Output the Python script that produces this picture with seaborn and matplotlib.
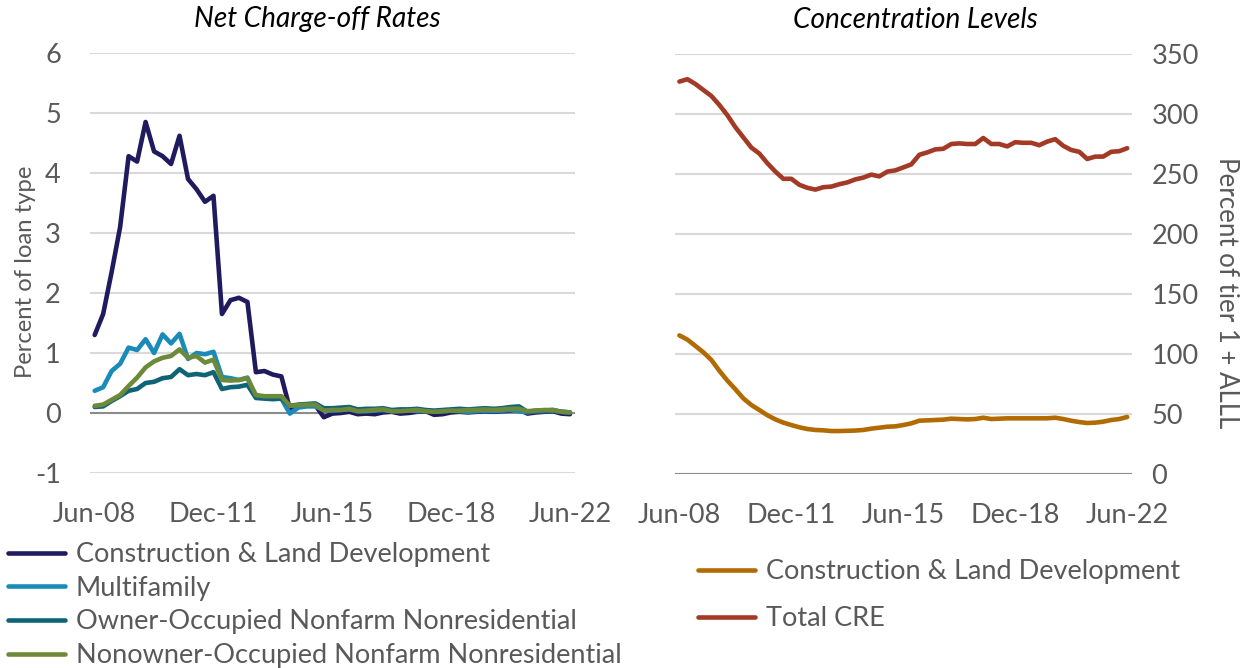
import numpy as np
import pandas as pd
import matplotlib
matplotlib.use("Agg")
import matplotlib.pyplot as plt
import seaborn as sns

sns.set_theme(style="white")
plt.rcParams['font.family'] = ['Lato', 'DejaVu Sans']
plt.rcParams['axes.unicode_minus'] = False

# quarterly, Jun-08 .. Jun-22
quarters = pd.period_range("2008Q2", "2022Q2", freq="Q")
tick_labels = ["Jun-08", "Dec-11", "Jun-15", "Dec-18", "Jun-22"]

# net charge-off rates (percent of loan type)
cld_nco = [1.30, 1.65, 2.35, 3.10, 4.28, 4.19, 4.85, 4.36, 4.28, 4.15, 4.62, 3.90, 3.73, 3.52, 3.62,
           1.65, 1.88, 1.92, 1.85, 0.68, 0.70, 0.64, 0.61, 0.07, 0.13, 0.14, 0.13, -0.07, -0.01,
           0.00, 0.02, -0.02, -0.01, -0.02, 0.01, 0.02, -0.01, 0.00, 0.02, 0.03, -0.03, -0.02, 0.01,
           0.02, 0.01, 0.02, 0.03, 0.02, 0.03, 0.04, 0.06, -0.01, 0.01, 0.02, 0.03, -0.01, -0.02]
multifamily_nco = [0.37, 0.43, 0.70, 0.82, 1.09, 1.05, 1.23, 1.00, 1.31, 1.16, 1.32, 0.90, 1.00, 0.98, 1.02,
                   0.60, 0.58, 0.55, 0.59, 0.27, 0.26, 0.25, 0.24, -0.01, 0.09, 0.11, 0.11, 0.05, 0.04,
                   0.05, 0.06, 0.03, 0.03, 0.04, 0.05, 0.03, 0.04, 0.05, 0.03, 0.04, 0.02, 0.03, 0.04,
                   0.03, 0.02, 0.03, 0.04, 0.03, 0.04, 0.05, 0.03, 0.01, 0.03, 0.03, 0.04, 0.02, 0.01]
owner_nco = [0.10, 0.11, 0.20, 0.28, 0.37, 0.40, 0.50, 0.52, 0.58, 0.60, 0.73, 0.63, 0.65, 0.63, 0.68,
             0.40, 0.43, 0.44, 0.47, 0.25, 0.24, 0.23, 0.24, 0.12, 0.14, 0.15, 0.16, 0.08, 0.08,
             0.09, 0.10, 0.06, 0.07, 0.07, 0.08, 0.05, 0.06, 0.06, 0.07, 0.05, 0.04, 0.05, 0.06,
             0.07, 0.06, 0.07, 0.08, 0.07, 0.08, 0.10, 0.11, 0.02, 0.04, 0.04, 0.05, 0.02, 0.01]
nonowner_nco = [0.12, 0.14, 0.22, 0.30, 0.45, 0.59, 0.76, 0.86, 0.92, 0.95, 1.06, 0.92, 0.95, 0.84, 0.89,
                0.55, 0.54, 0.55, 0.58, 0.30, 0.28, 0.28, 0.28, 0.12, 0.13, 0.14, 0.14, 0.04, 0.05,
                0.05, 0.07, 0.03, 0.04, 0.05, 0.06, 0.03, 0.03, 0.04, 0.05, 0.03, 0.02, 0.03, 0.04,
                0.04, 0.05, 0.05, 0.06, 0.05, 0.06, 0.07, 0.07, 0.03, 0.04, 0.05, 0.05, 0.02, 0.01]

# concentration levels (percent of tier 1 + ALLL)
cld_conc = [115.5, 112.0, 106.7, 101.4, 95.0, 86.0, 77.8, 70.6, 63.0, 57.5, 53.3, 49.0, 45.5, 42.8, 40.8,
            38.9, 37.5, 36.7, 36.4, 35.8, 35.8, 36.0, 36.2, 36.7, 37.8, 38.6, 39.4, 39.7, 40.8,
            42.2, 44.4, 44.7, 45.0, 45.3, 46.1, 45.8, 45.5, 45.8, 46.9, 45.8, 46.1, 46.4, 46.4,
            46.4, 46.4, 46.4, 46.4, 46.9, 45.8, 44.4, 43.3, 42.5, 42.8, 43.6, 45.0, 45.8, 47.5]
total_cre = [327.0, 329.0, 325.0, 320.0, 315.0, 307.5, 299.0, 289.0, 280.5, 272.0, 267.0, 259.0, 252.0,
             246.0, 246.0, 241.0, 238.5, 237.0, 239.0, 239.5, 241.5, 243.0, 245.5, 247.0, 249.5,
             248.0, 252.0, 253.0, 255.5, 258.0, 266.0, 268.0, 270.5, 271.0, 275.0, 275.5, 275.0,
             275.0, 280.0, 275.0, 275.0, 273.0, 276.5, 276.0, 276.0, 274.0, 277.0, 279.0, 273.5,
             270.0, 268.5, 262.5, 264.5, 264.5, 268.5, 269.0, 271.5]

left_names = ["Construction & Land Development", "Multifamily",
              "Owner-Occupied Nonfarm Nonresidential", "Nonowner-Occupied Nonfarm Nonresidential"]
left_colors = ["#201A5E", "#1A8BB9", "#0F6377", "#6D8A3A"]
right_names = ["Construction & Land Development", "Total CRE"]
right_colors = ["#B26B02", "#A33A26"]

idx = np.arange(len(quarters))
nco = pd.DataFrame({"q": np.tile(idx, 4),
                    "value": cld_nco + multifamily_nco + owner_nco + nonowner_nco,
                    "series": np.repeat(left_names, len(idx))})
conc = pd.DataFrame({"q": np.tile(idx, 2),
                     "value": cld_conc + total_cre,
                     "series": np.repeat(right_names, len(idx))})

text_col = "#595959"
fs = 19.5

fig = plt.figure(figsize=(12.46, 6.68), dpi=100)
ax1 = fig.add_axes([90 / 1246, 195 / 668, 485 / 1246, 420 / 668])
ax2 = fig.add_axes([675 / 1246, 194 / 668, 457 / 1246, 420 / 668])

sns.lineplot(data=nco, x="q", y="value", hue="series", hue_order=left_names,
             palette=left_colors, linewidth=3.3, ax=ax1, legend=False)
sns.lineplot(data=conc, x="q", y="value", hue="series", hue_order=right_names,
             palette=right_colors, linewidth=3.3, ax=ax2, legend=False)

tick_pos = [0, 14, 28, 42, 56]
for ax in (ax1, ax2):
    ax.set_xlim(-0.55, 56.6)
    ax.set_xticks(tick_pos)
    ax.set_xticklabels(tick_labels)
    for s in ax.spines.values():
        s.set_visible(False)
    ax.grid(axis="y", color="#D9D9D9", linewidth=1.5)
    ax.set_axisbelow(True)
    ax.tick_params(length=0, labelsize=fs, labelcolor=text_col)
    ax.tick_params(axis="x", pad=21)
    ax.set_xlabel("")

ax1.set_ylim(-1, 6)
ax1.set_yticks(range(-1, 7))
ax1.tick_params(axis="y", pad=21)
ax1.axhline(0, color="#8C8C8C", linewidth=1.5, zorder=1)
ax1.set_ylabel("Percent of loan type", fontsize=17.2, color=text_col, va="center")
ax1.yaxis.set_label_coords(-0.134, 0.479)
ax1.set_title("Net Charge-off Rates", fontsize=20.2, style="italic", color="black", pad=19,
              x=0.468)

ax2.set_ylim(0, 350)
ax2.set_yticks(range(0, 351, 50))
ax2.yaxis.tick_right()
ax2.yaxis.set_label_position("right")
ax2.tick_params(axis="y", pad=14)
ax2.axhline(0, color="#8C8C8C", linewidth=1.5, zorder=1)
ax2.set_ylabel("Percent of tier 1 + ALLL", fontsize=18.6, color=text_col, rotation=270,
               va="center")
ax2.yaxis.set_label_coords(1.206, 0.433)
ax2.set_title("Concentration Levels", fontsize=20.2, style="italic", color="black", pad=19,
              x=0.527)

leg1 = fig.legend(ax1.get_lines()[:4], left_names, loc="upper left",
                  bbox_to_anchor=(8 / 1246, 1 - 542 / 668), frameon=False, fontsize=fs,
                  handlelength=2.1, handletextpad=0.4, labelspacing=0.32, borderpad=0,
                  borderaxespad=0)
leg2 = fig.legend(ax2.get_lines()[:2], right_names, loc="upper left",
                  bbox_to_anchor=(698 / 1246, 1 - 559 / 668), frameon=False, fontsize=fs,
                  handlelength=2.1, handletextpad=0.4, labelspacing=0.82, borderpad=0,
                  borderaxespad=0)
for leg in (leg1, leg2):
    for t in leg.get_texts():
        t.set_color(text_col)

fig.savefig("out.png", dpi=100)
